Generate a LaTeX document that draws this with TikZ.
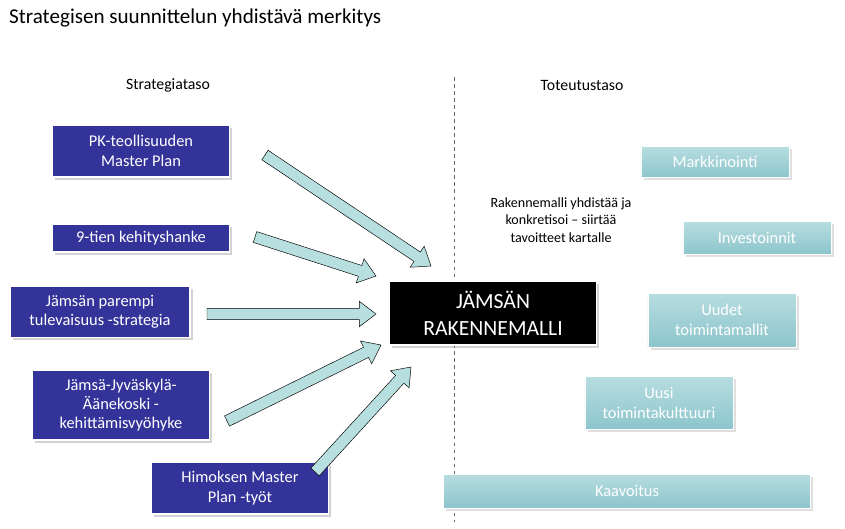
\documentclass[tikz,border=0pt]{standalone}
\usepackage{fontspec}
\setmainfont{Carlito}
\usetikzlibrary{positioning, calc, shadows}
\definecolor{navy}{HTML}{333399}
\definecolor{teal1}{HTML}{B7DDE0}
\definecolor{teal2}{HTML}{8CC5CC}
\definecolor{arrowfill}{HTML}{B8DFE0}

% block arrow between two coordinates
\newcommand{\blockarrow}[2]{
  \coordinate (h) at ($(#2)!0.5cm!(#1)$);
  \draw[fill=arrowfill, thin] ($(#1)!0.17cm!90:(#2)$) -- ($(h)!0.17cm!90:(#2)$)
    -- ($(h)!0.38cm!90:(#2)$) -- (#2) -- ($(h)!0.38cm!-90:(#2)$)
    -- ($(h)!0.17cm!-90:(#2)$) -- ($(#1)!0.17cm!-90:(#2)$) -- cycle;
}

\begin{document}
\begin{tikzpicture}[x=0.03cm, y=-0.03cm,
    strat/.style={rectangle, fill=navy, draw=white, line width=1pt, text=white, align=center, font=\fontsize{14}{16.5}\selectfont, drop shadow={opacity=0.35}},
    impl/.style={rectangle, top color=teal1, bottom color=teal2, draw=white, text=white, align=center, font=\fontsize{14}{16.5}\selectfont, drop shadow={opacity=0.25}},
    head/.style={font=\fontsize{13.5}{15}\selectfont}
]
\useasboundingbox (0,0) rectangle (845,528);

% Title
\node[anchor=west, font=\fontsize{18}{20}\selectfont] (title) at (5,18) {Strategisen suunnittelun yhdistävä merkitys};

% Headers and divider
\node[head] (strathead) at (168,85) {Strategiataso};
\node[head] (impthead) at (582,85) {Toteutustaso};
\coordinate (divtop) at (454,77);
\coordinate (divbot) at (454,522);
\draw[dashed, gray!80!black] (divtop) -- (divbot);

% Strategy boxes
\node[strat, minimum width=5.3cm, minimum height=1.56cm] (pk) at (141,151) {PK-teollisuuden\\Master Plan};
\node[strat, minimum width=5.3cm, minimum height=0.84cm] (tie) at (141,238) {9-tien kehityshanke};
\node[strat, minimum width=5.4cm, minimum height=1.53cm] (parempi) at (100,312) {Jämsän parempi\\tulevaisuus -strategia};
\node[strat, minimum width=5.3cm, minimum height=2.1cm] (jjy) at (121,405) {Jämsä-Jyväskylä-\\Äänekoski -\\kehittämisvyöhyke};
\node[strat, minimum width=5.3cm, minimum height=1.56cm] (himos) at (240,488) {Himoksen Master\\Plan -työt};

% Core
\node[rectangle, fill=black, draw=white, line width=1pt, text=white, align=center, minimum width=6.2cm, minimum height=1.92cm, font=\fontsize{18.5}{23}\selectfont, drop shadow={opacity=0.35}] (core) at (493,313) {JÄMSÄN\\RAKENNEMALLI};
\node[align=center, font=\fontsize{12}{15}\selectfont] (note) at (561,220) {Rakennemalli yhdistää ja\\konkretisoi – siirtää\\tavoitteet kartalle};

% Implementation boxes
\node[impl, minimum width=4.45cm, minimum height=0.93cm] (mark) at (715,162) {Markkinointi};
\node[impl, minimum width=4.45cm, minimum height=0.99cm] (inv) at (757,238) {Investoinnit};
\node[impl, minimum width=4.45cm, minimum height=1.62cm] (uudet) at (722,320) {Uudet\\toimintamallit};
\node[impl, minimum width=4.45cm, minimum height=1.59cm] (uusi) at (659,403) {Uusi\\toimintakulttuuri};
\node[impl, minimum width=11cm, minimum height=1.02cm] (kaav) at (627,491) {Kaavoitus};

% Arrows
\coordinate (a1s) at (265,155); \coordinate (a1e) at (431,266);
\coordinate (a2s) at (255,237); \coordinate (a2e) at (376,276);
\coordinate (a3s) at (207,314); \coordinate (a3e) at (376,314);
\coordinate (a4s) at (227,421); \coordinate (a4e) at (381,345);
\coordinate (a5s) at (315,472); \coordinate (a5e) at (411,367);
\blockarrow{a1s}{a1e}
\blockarrow{a2s}{a2e}
\blockarrow{a3s}{a3e}
\blockarrow{a4s}{a4e}
\blockarrow{a5s}{a5e}
\end{tikzpicture}
\end{document}
